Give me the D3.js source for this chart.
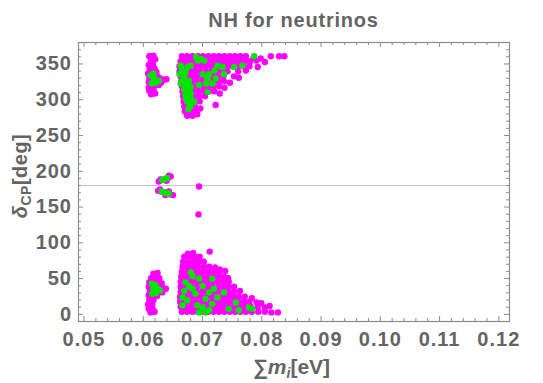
<!DOCTYPE html>
<html>
<head>
<meta charset="utf-8">
<script src="https://cdn.jsdelivr.net/npm/d3@7"></script>
<style>
  body { margin: 0; background: #fff; }
  svg { display: block; }
</style>
</head>
<body>
<script>
// NH for neutrinos: sum of masses vs delta_CP, two point sets (magenta, green)

const xTicks = [0.05, 0.06, 0.07, 0.08, 0.09, 0.10, 0.11, 0.12];
const yTicks = [0, 50, 100, 150, 200, 250, 300, 350];
const refLine = 180;

// magenta points, [sum m_i (eV), delta_CP (deg)]
const magentaUpperLeft = [
  [0.0611,360],[0.0618,361],[0.0614,354],[0.0621,356],[0.0610,348],[0.0617,349],[0.0612,342],[0.0620,343],
  [0.0609,336],[0.0616,337],[0.0623,338],[0.0611,330],[0.0618,331],[0.0625,332],[0.0630,329],[0.0635,327],
  [0.0640,328],[0.0610,324],[0.0617,325],[0.0624,325],[0.0631,323],[0.0613,318],[0.0620,319],[0.0627,320],
  [0.0611,312],[0.0618,313],[0.0614,307],[0.0621,308],[0.0610,316]
];
const magentaUpperMain = [
  [0.0666,360],[0.0675,360],[0.0684,360],[0.0693,360],[0.0702,360],[0.0711,360],[0.0720,360],[0.0729,360],
  [0.0738,360],[0.0747,360],[0.0756,360],[0.0765,360],[0.0774,360],[0.0787,358],[0.0799,357],[0.0816,360],
  [0.0830,360],[0.0839,360],
  [0.0664,353],[0.0673,353],[0.0682,353],[0.0691,353],[0.0700,353],[0.0709,353],[0.0718,353],[0.0727,353],
  [0.0736,353],[0.0745,353],[0.0754,353],[0.0763,353],[0.0772,353],[0.0781,353],[0.0792,354],[0.0806,352],
  [0.0662,346],[0.0671,346],[0.0680,346],[0.0689,346],[0.0698,346],[0.0707,346],[0.0716,346],[0.0725,346],
  [0.0734,346],[0.0743,346],[0.0752,346],[0.0761,346],[0.0770,346],[0.0780,346],[0.0794,345],
  [0.0662,339],[0.0671,339],[0.0680,339],[0.0689,339],[0.0698,339],[0.0707,339],[0.0716,339],[0.0725,339],
  [0.0734,339],[0.0743,339],[0.0761,339],[0.0774,340],
  [0.0664,332],[0.0673,332],[0.0682,332],[0.0691,332],[0.0700,332],[0.0709,332],[0.0718,332],[0.0727,332],
  [0.0736,332],[0.0754,332],[0.0762,330],
  [0.0665,325],[0.0674,325],[0.0683,325],[0.0692,325],[0.0701,325],[0.0710,325],[0.0719,325],[0.0728,325],
  [0.0737,325],[0.0747,323],
  [0.0666,318],[0.0675,318],[0.0684,318],[0.0693,318],[0.0702,318],[0.0711,318],[0.0720,318],[0.0729,318],
  [0.0738,316],
  [0.0667,311],[0.0676,311],[0.0685,311],[0.0694,311],[0.0703,311],[0.0712,311],[0.0721,311],[0.0730,308],
  [0.0668,304],[0.0677,304],[0.0686,304],[0.0695,304],[0.0705,304],
  [0.0669,297],[0.0678,297],[0.0687,297],[0.0696,297],
  [0.0670,290],[0.0679,290],[0.0688,290],[0.0697,287],[0.0723,292],
  [0.0671,283],[0.0680,283],[0.0689,283],
  [0.0675,277],[0.0684,277],[0.0692,279]
];
const magentaMiddle = [
  [0.0627,185],[0.0632,187],[0.0637,188],[0.0642,190],[0.0647,192],[0.0630,188],[0.0640,186],[0.0644,193],
  [0.0626,172],[0.0631,171],[0.0636,170],[0.0641,168],[0.0646,167],[0.0651,166],[0.0629,174],[0.0644,171],
  [0.0638,166],
  [0.0695,178],[0.0694,139]
];
const magentaLowerLeft = [
  [0.0618,56],[0.0625,57],[0.0614,50],[0.0621,51],[0.0628,50],[0.0611,44],[0.0618,45],[0.0625,44],
  [0.0632,43],[0.0610,38],[0.0617,38],[0.0624,38],[0.0631,37],[0.0635,36],[0.0639,35],[0.0612,32],
  [0.0619,31],[0.0626,31],[0.0633,30],[0.0610,26],[0.0617,25],[0.0624,25],[0.0611,19],[0.0618,19],
  [0.0609,13],[0.0616,13],[0.0610,7],[0.0617,6],[0.0613,2],[0.0620,3]
];
const magentaLowerMain = [
  [0.0666,3],[0.0675,3],[0.0684,3],[0.0693,3],[0.0702,3],[0.0711,3],[0.0720,3],[0.0729,3],[0.0738,3],
  [0.0747,3],[0.0756,3],[0.0765,3],[0.0774,3],[0.0784,3],[0.0795,3],[0.0806,3],[0.0817,2],[0.0828,2],
  [0.0664,10],[0.0673,10],[0.0682,10],[0.0691,10],[0.0700,10],[0.0709,10],[0.0718,10],[0.0727,10],
  [0.0736,10],[0.0745,10],[0.0754,10],[0.0763,10],[0.0772,10],[0.0782,10],[0.0794,10],[0.0806,9],[0.0814,11],
  [0.0663,17],[0.0672,17],[0.0681,17],[0.0690,17],[0.0699,17],[0.0708,17],[0.0717,17],[0.0726,17],
  [0.0735,17],[0.0744,17],[0.0753,17],[0.0762,17],[0.0771,17],[0.0780,17],[0.0792,16],[0.0800,15],
  [0.0663,24],[0.0672,24],[0.0681,24],[0.0690,24],[0.0699,24],[0.0708,24],[0.0717,24],[0.0726,24],
  [0.0735,24],[0.0744,24],[0.0753,24],[0.0762,24],[0.0772,24],[0.0784,22],
  [0.0664,31],[0.0673,31],[0.0682,31],[0.0691,31],[0.0700,31],[0.0709,31],[0.0718,31],[0.0727,31],
  [0.0736,31],[0.0745,31],[0.0754,31],[0.0764,32],
  [0.0664,38],[0.0673,38],[0.0682,38],[0.0691,38],[0.0700,38],[0.0709,38],[0.0718,38],[0.0727,38],
  [0.0736,38],[0.0745,38],[0.0754,38],
  [0.0664,45],[0.0673,45],[0.0682,45],[0.0691,45],[0.0700,45],[0.0709,45],[0.0718,45],[0.0727,45],
  [0.0736,45],[0.0745,45],
  [0.0665,52],[0.0674,52],[0.0683,52],[0.0692,52],[0.0701,52],[0.0710,52],[0.0719,52],[0.0728,52],
  [0.0737,52],[0.0744,50],
  [0.0666,59],[0.0675,59],[0.0684,59],[0.0693,59],[0.0702,59],[0.0711,59],[0.0720,59],[0.0729,59],[0.0739,60],
  [0.0667,66],[0.0676,66],[0.0685,66],[0.0694,66],[0.0703,66],[0.0712,66],[0.0722,65],[0.0730,62],
  [0.0668,73],[0.0677,73],[0.0686,73],[0.0695,73],[0.0703,73],
  [0.0670,80],[0.0679,80],[0.0688,80],[0.0696,80],
  [0.0676,84],[0.0685,85],[0.0713,87]
];

// green points drawn on top
const greenUpperLeft = [
  [0.0613,333],[0.0619,329],[0.0615,322],[0.0622,323],[0.0627,326],[0.0618,336]
];
const greenUpperMain = [
  [0.0690,359],[0.0698,356],[0.0704,354],[0.0664,347],[0.0676,345],[0.0681,347],[0.0662,335],[0.0670,331],
  [0.0664,322],[0.0673,317],[0.0676,310],[0.0681,308],[0.0673,301],[0.0678,303],[0.0681,294],[0.0687,296],
  [0.0695,320],[0.0709,329],[0.0712,335],[0.0718,322],[0.0723,329],[0.0726,347],[0.0735,345],[0.0737,335],
  [0.0754,345],[0.0768,347],[0.0788,360],[0.0693,354],[0.0667,339],[0.0678,326],[0.0681,317],[0.0709,310],
  [0.0707,322],[0.0721,340],[0.0701,335],[0.0666,342],[0.0672,338],[0.0668,326],[0.0674,322],[0.0670,314],
  [0.0677,313],[0.0672,306],[0.0682,300],[0.0675,297],[0.0680,290],[0.0677,286]
];
const greenMiddle = [
  [0.0633,187],[0.0637,188.5],[0.0641,190],
  [0.0632,171],[0.0636,170],[0.0640,169],[0.0644,168]
];
const greenLowerLeft = [
  [0.0615,42],[0.0621,40],[0.0618,34],[0.0625,35],[0.0629,33],[0.0622,29],[0.0616,28]
];
const greenLowerMain = [
  [0.0681,58],[0.0672,44],[0.0678,39],[0.0670,32],[0.0684,35],[0.0689,28],[0.0675,19],[0.0667,23],
  [0.0695,49],[0.0701,39],[0.0717,49],[0.0712,30],[0.0720,35],[0.0706,21],[0.0717,14],[0.0701,9],
  [0.0712,5],[0.0695,2],[0.0737,30],[0.0745,7],[0.0757,16],[0.0762,5],[0.0779,9],[0.0785,7],
  [0.0684,53],[0.0692,12],[0.0667,12],[0.0726,23],[0.0706,2]
];

const magenta = [].concat(magentaUpperLeft, magentaUpperMain, magentaMiddle, magentaLowerLeft, magentaLowerMain);
const green = [].concat(greenUpperLeft, greenUpperMain, greenMiddle, greenLowerLeft, greenLowerMain);

const width = 543, height = 383;
const plot = {left: 78, right: 509, top: 42, bottom: 321};
const labelColor = "#646464";
const frameColor = "#8c8c8c";
const font = "'Liberation Sans', Arial, sans-serif";
const dotR = 3.2;

const svg = d3.select("body").append("svg")
    .attr("width", width)
    .attr("height", height);

const x = d3.scaleLinear().domain([0.04907, 0.1218]).range([plot.left, plot.right]);
const y = d3.scaleLinear().domain([-10, 380]).range([plot.bottom, plot.top]);

// minor tick positions
const xMinor = d3.range(50, 122, 2).map(d => d / 1000).filter(d => Math.round(d * 1000) % 10 !== 0);
const yMinor = d3.range(0, 380, 10).filter(d => d % 50 !== 0);

// reference line at 180 deg
svg.append("line")
    .attr("x1", plot.left).attr("x2", plot.right)
    .attr("y1", Math.round(y(refLine)) + 0.5).attr("y2", Math.round(y(refLine)) + 0.5)
    .attr("stroke", "#c4c4c4")
    .attr("stroke-width", 1);

// points
svg.append("g").selectAll("circle")
    .data(magenta)
    .join("circle")
    .attr("cx", d => x(d[0]))
    .attr("cy", d => y(d[1]))
    .attr("r", dotR)
    .attr("fill", "#ff00ff");

svg.append("g").selectAll("circle")
    .data(green)
    .join("circle")
    .attr("cx", d => x(d[0]))
    .attr("cy", d => y(d[1]))
    .attr("r", dotR)
    .attr("fill", "#00e400");

// frame
svg.append("rect")
    .attr("x", plot.left + 0.5).attr("y", plot.top + 0.5)
    .attr("width", plot.right - plot.left).attr("height", plot.bottom - plot.top)
    .attr("fill", "none")
    .attr("stroke", frameColor)
    .attr("stroke-width", 1.2);

function styleAxis(g) {
    g.select(".domain").remove();
    g.selectAll("line").attr("stroke", frameColor);
    g.selectAll("text")
        .attr("fill", labelColor)
        .attr("font-family", font)
        .attr("font-weight", "bold")
        .attr("font-size", 20)
        .attr("letter-spacing", 1);
}

// bottom
svg.append("g")
    .attr("transform", "translate(0," + plot.bottom + ")")
    .call(d3.axisBottom(x).tickValues(xTicks).tickFormat(d3.format(".2f"))
        .tickSizeInner(-5).tickSizeOuter(0).tickPadding(11))
    .call(styleAxis);
svg.append("g")
    .attr("transform", "translate(0," + plot.bottom + ")")
    .call(d3.axisBottom(x).tickValues(xMinor).tickFormat("").tickSizeInner(-3).tickSizeOuter(0))
    .call(styleAxis);

// top (mirror)
svg.append("g")
    .attr("transform", "translate(0," + plot.top + ")")
    .call(d3.axisTop(x).tickValues(xTicks).tickFormat("").tickSizeInner(-5).tickSizeOuter(0))
    .call(styleAxis);
svg.append("g")
    .attr("transform", "translate(0," + plot.top + ")")
    .call(d3.axisTop(x).tickValues(xMinor).tickFormat("").tickSizeInner(-3).tickSizeOuter(0))
    .call(styleAxis);

// left
svg.append("g")
    .attr("transform", "translate(" + plot.left + ",0)")
    .call(d3.axisLeft(y).tickValues(yTicks).tickSizeInner(-5).tickSizeOuter(0).tickPadding(6))
    .call(styleAxis);
svg.append("g")
    .attr("transform", "translate(" + plot.left + ",0)")
    .call(d3.axisLeft(y).tickValues(yMinor).tickFormat("").tickSizeInner(-3).tickSizeOuter(0))
    .call(styleAxis);

// right (mirror)
svg.append("g")
    .attr("transform", "translate(" + plot.right + ",0)")
    .call(d3.axisRight(y).tickValues(yTicks).tickFormat("").tickSizeInner(-5).tickSizeOuter(0))
    .call(styleAxis);
svg.append("g")
    .attr("transform", "translate(" + plot.right + ",0)")
    .call(d3.axisRight(y).tickValues(yMinor).tickFormat("").tickSizeInner(-3).tickSizeOuter(0))
    .call(styleAxis);

// title
svg.append("text")
    .attr("x", (plot.left + plot.right) / 2)
    .attr("y", 27)
    .attr("text-anchor", "middle")
    .attr("font-family", font)
    .attr("font-weight", "bold")
    .attr("font-size", 20)
    .attr("letter-spacing", 0.8)
    .attr("fill", labelColor)
    .text("NH for neutrinos");

// x label: ∑m_i[eV]
const xLabel = svg.append("text")
    .attr("x", (plot.left + plot.right) / 2 - 2)
    .attr("y", 374)
    .attr("text-anchor", "middle")
    .attr("font-family", font)
    .attr("font-weight", "bold")
    .attr("font-size", 21)
    .attr("fill", labelColor);
xLabel.append("tspan").text("∑");
xLabel.append("tspan").attr("font-style", "italic").text("m");
xLabel.append("tspan").attr("font-style", "italic").attr("font-size", 14).attr("dy", 4).text("i");
xLabel.append("tspan").attr("dy", -4).text("[eV]");

// y label: δ_CP[deg]
const yLabel = svg.append("text")
    .attr("transform", "translate(27,176) rotate(-90)")
    .attr("text-anchor", "middle")
    .attr("font-family", font)
    .attr("font-weight", "bold")
    .attr("font-size", 20)
    .attr("letter-spacing", 0.5)
    .attr("fill", labelColor);
yLabel.append("tspan").attr("font-style", "italic").text("δ");
yLabel.append("tspan").attr("font-size", 14).attr("dy", 4).text("CP");
yLabel.append("tspan").attr("dy", -4).text("[deg]");
</script>
</body>
</html>
